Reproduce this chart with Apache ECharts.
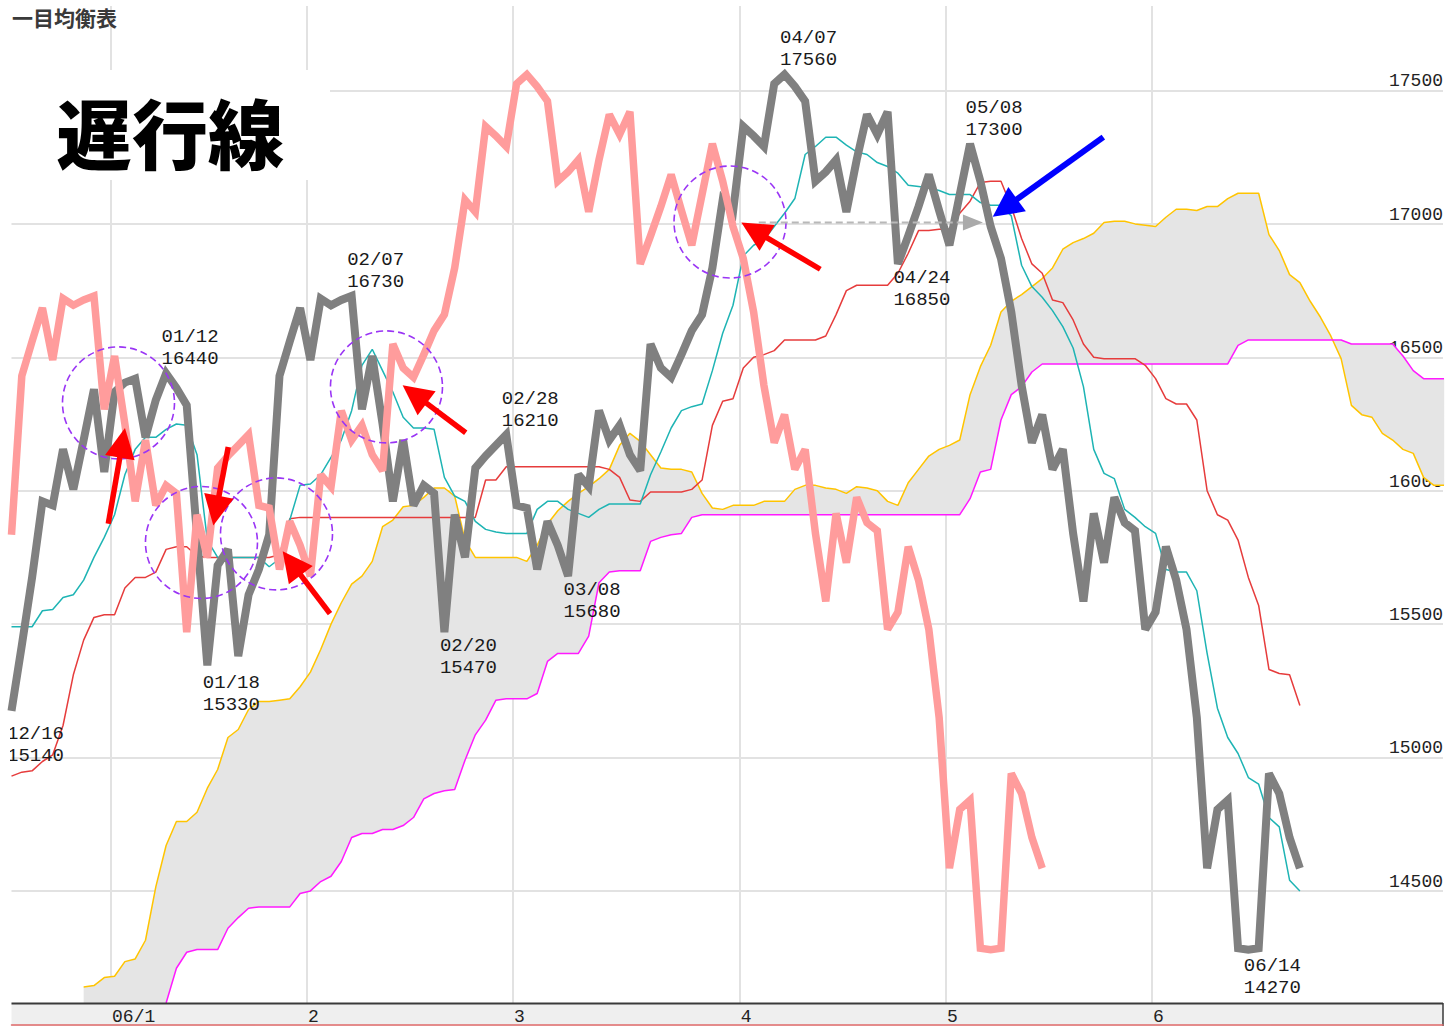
<!DOCTYPE html>
<html>
<head>
<meta charset="utf-8">
<title>一目均衡表 遅行線</title>
<script src="https://cdn.jsdelivr.net/npm/echarts@6.0.0/dist/echarts.min.js"></script>
<style>
html,body{margin:0;padding:0;background:#fff;}
#chart{width:1449px;height:1026px;}
</style>
</head>
<body>
<div id="chart"></div>
<script>
// ---------------- data (x = trading-day index, 0 = 2005/12/16) ----------------
const monthStartIdx = [10, 29, 49, 71, 91, 111];
const monthLabels = ['06/1', '2', '3', '4', '5', '6'];

// daily close (12/16 .. 06/21)
const close = [
  15175, 15420, 15675, 15960, 15945, 16155, 16005, 16190, 16380, 16070,
  16370, 16405, 16420, 16200, 16340, 16440, 16385, 16320, 15830, 15345,
  15720, 15780, 15380, 15610, 15705, 15835, 16430, 16560, 16685, 16490,
  16720, 16695, 16715, 16730, 16305, 16505, 16250, 15960, 16190, 15945,
  16020, 15990, 15470, 15910, 15750, 16085, 16130, 16170, 16210, 15945,
  15935, 15705, 15885, 15795, 15680, 16060, 16015, 16300, 16190, 16245,
  16135, 16075, 16550, 16460, 16425, 16510, 16600, 16660, 16835, 17090,
  17045, 17365, 17330, 17290, 17525, 17560, 17515, 17460, 17160, 17195,
  17240, 17045, 17240, 17410, 17335, 17420, 16850, 16955, 17065, 17185,
  17050, 16920, 17110, 17300, 17160, 16990, 16870, 16670, 16395, 16180,
  16285, 16080, 16155, 15840, 15585, 15915, 15730, 15975, 15880, 15850,
  15480, 15545, 15790, 15665, 15480, 15150, 14585, 14805, 14840, 14285,
  14280, 14285, 14940, 14865, 14700, 14585
];

// 転換線
const tenkan = [
  15490, 15490, 15490, 15550, 15555, 15600, 15610, 15665, 15750, 15825,
  15910, 16060, 16155, 16200, 16200, 16230, 16250, 16245, 16135, 15815,
  15750, 15750, 15750, 15750, 15750, 15715, 15745, 15890, 16020, 16025,
  16060, 16125, 16190, 16300, 16470, 16530, 16450, 16370, 16275, 16235,
  16235, 16230, 16050, 15980, 15960, 15885, 15855, 15845, 15840, 15840,
  15840, 15930, 15960, 15960, 15930, 15915, 15900, 15930, 15950, 15950,
  15950, 15950, 16060, 16145, 16235, 16300, 16315, 16325, 16450, 16590,
  16695, 16880, 16920, 16940, 16990, 17040, 17095, 17260, 17290, 17325,
  17325, 17295, 17270, 17260, 17230, 17215, 17190, 17145, 17140, 17135,
  17125, 17110, 17110, 17110, 17080, 17070, 17070, 17030, 16845, 16765,
  16725, 16675, 16615, 16535, 16390, 16155, 16065, 16045, 15930, 15900,
  15865, 15840, 15705, 15695, 15695, 15625, 15390, 15185, 15075, 15015,
  14925, 14900, 14775, 14740, 14540, 14500
];

// 基準線
const kijun = [
  14930, 14945, 14950, 14985, 15010, 15120, 15310, 15440, 15525, 15535,
  15535, 15635, 15675, 15675, 15695, 15780, 15790, 15790, 15755, 15750,
  15750, 15750, 15750, 15750, 15750, 15750, 15760, 15895, 15900, 15900,
  15900, 15900, 15900, 15900, 15900, 15900, 15900, 15900, 15900, 15900,
  15900, 15900, 15900, 15900, 15900, 15900, 16040, 16040, 16090, 16090,
  16090, 16090, 16090, 16090, 16090, 16090, 16090, 16090, 16080, 16050,
  15965, 15960, 15995, 15995, 15995, 15995, 16005, 16040, 16245, 16335,
  16345, 16460, 16500, 16510, 16525, 16565, 16565, 16565, 16565, 16580,
  16660, 16750, 16770, 16770, 16770, 16770, 16815, 16890, 16975, 16975,
  16980, 16980, 17040, 17085, 17155, 17160, 17160, 17065, 16945, 16850,
  16815, 16715, 16705, 16640, 16550, 16500, 16495, 16495, 16495, 16495,
  16470, 16420, 16345, 16325, 16325, 16265, 16000, 15910, 15890, 15815,
  15675, 15570, 15330, 15315, 15310, 15195
];

// 先行スパン1 (visible from index 7)
const senkouAStart = 7;
const senkouA = [
  14140, 14145, 14175, 14180, 14235, 14245, 14315, 14515, 14670, 14760,
  14760, 14795, 14885, 14955, 15075, 15105, 15180, 15210, 15210, 15215,
  15220, 15265, 15320, 15405, 15500, 15580, 15650, 15680, 15735, 15865,
  15890, 15940, 15945, 15975, 16010, 16010, 15980, 15815, 15750, 15750,
  15750, 15750, 15750, 15735, 15795, 15875, 15925, 15960, 15990, 16015,
  16045, 16080, 16170, 16215, 16185, 16135, 16085, 16080, 16080, 16070,
  15990, 15935, 15930, 15945, 15945, 15945, 15960, 15960, 15960, 16005,
  16020, 16020, 16010, 16005, 15990, 16015, 16010, 16000, 15960, 15945,
  16030, 16080, 16130, 16155, 16170, 16190, 16360, 16465, 16545, 16670,
  16710, 16735, 16765, 16795, 16835, 16905, 16930, 16945, 16965, 17005,
  17010, 17010, 17000, 16995, 16990, 17025, 17055, 17055, 17050, 17065,
  17065, 17095, 17115, 17115, 17115, 16960, 16900, 16810, 16780, 16710,
  16650, 16580, 16495, 16320, 16285, 16275, 16215, 16190, 16155, 16140,
  16050, 16020, 16020
];

// 先行スパン2 (visible from index 15)
const senkouBStart = 15;
const senkouB = [
  14080, 14210, 14270, 14280, 14280, 14280, 14360, 14400, 14435, 14440,
  14440, 14440, 14440, 14490, 14500, 14535, 14555, 14610, 14700, 14715,
  14715, 14730, 14730, 14745, 14775, 14845, 14865, 14875, 14880, 14990,
  15085, 15140, 15215, 15220, 15220, 15220, 15240, 15360, 15390, 15390,
  15390, 15455, 15655, 15695, 15700, 15700, 15700, 15810, 15825, 15835,
  15840, 15900, 15910, 15910, 15910, 15910, 15910, 15910, 15910, 15910,
  15910, 15910, 15910, 15910, 15910, 15910, 15910, 15910, 15910, 15910,
  15910, 15910, 15910, 15910, 15910, 15910, 15910, 15910, 15970, 16070,
  16080, 16265, 16360, 16390, 16445, 16475, 16475, 16475, 16475, 16475,
  16475, 16475, 16475, 16475, 16475, 16475, 16475, 16475, 16475, 16475,
  16475, 16475, 16475, 16475, 16545, 16565, 16565, 16565, 16565, 16565,
  16565, 16565, 16565, 16565, 16565, 16550, 16550, 16550, 16550, 16550,
  16505, 16450, 16420, 16420, 16420
];

// 遅行線 = close plotted 25 trading days back
const chikouShift = 25;

// pivot labels on the close line
const pivotIdx   = [0, 15, 19, 33, 42, 48, 54, 75, 86, 93, 120];
const pivotDate  = ['12/16', '01/12', '01/18', '02/07', '02/20', '02/28', '03/08', '04/07', '04/24', '05/08', '06/14'];
const pivotValue = [15140, 16440, 15330, 16730, 15470, 16210, 15680, 17560, 16850, 17300, 14270];
const pivotSide  = ['low', 'high', 'low', 'high', 'low', 'high', 'low', 'high', 'low', 'high', 'low'];

// annotations (data coordinates: [index, price])
const circleAt = [[10.38, 16329], [18.43, 15806], [25.71, 15838], [36.38, 16389], [69.71, 17007]];
const redArrows = [
  [[9.39, 15876], [11.01, 16235]],
  [[21.03, 16164], [19.58, 15870]],
  [[30.90, 15539], [26.31, 15773]],
  [[44.07, 16217], [37.95, 16395]],
  [[78.47, 16830], [70.81, 17005]]
];
const blueArrow = [[105.93, 17325], [95.20, 17027]];
const guideLine = [[72.5, 17005], [94.25, 17005]];

// ---------------- chart ----------------
const Y_MIN = 14000, Y_MAX = 17839.2, Y_STEP = 500, Y_TOP_TICK = 17500;
const X_MAX = 138.885;
const gridPos = monthStartIdx.map(i => i - 0.34);

const pairs = (arr, start) => arr.map((v, k) => [start + k, v]);
const closeData = pairs(close, 0);
const chikouData = pairs(close.slice(chikouShift), 0);
const aData = pairs(senkouA, senkouAStart);
const bData = pairs(senkouB, senkouBStart);
const lowerEdge = aData.map(([i]) => {
  const k = i - senkouBStart;
  return [i, k >= 0 ? senkouB[k] : Y_MIN];
});

const mono = '"Liberation Mono", "DejaVu Sans Mono", monospace';
const thin = (name, data, color, z) => ({
  name, type: 'line', data, z, symbol: 'none', showSymbol: false, silent: true,
  lineStyle: { color, width: 1.5 }, animation: false
});

const chart = echarts.init(document.getElementById('chart'), null, { renderer: 'svg' });

const option = {
  animation: false,
  backgroundColor: '#ffffff',
  grid: { left: 11.5, right: 6, top: 0, bottom: 1.7 },
  xAxis: [
    {
      type: 'value', min: 0, max: X_MAX,
      axisLine: { show: false }, axisLabel: { show: false },
      axisTick: { show: false, customValues: gridPos },
      splitLine: { show: true, lineStyle: { color: '#e2e2e2', width: 2 } }
    },
    {
      type: 'value', min: 0, max: X_MAX, position: 'bottom', z: 120,
      axisLine: { show: true, lineStyle: { color: '#e06a6a', width: 1.5 } },
      axisTick: { show: false },
      splitLine: { show: false },
      axisLabel: {
        show: true, inside: true, margin: 7.5, customValues: gridPos,
        align: 'left', verticalAlign: 'middle', padding: [0, 0, 0, 1],
        fontFamily: mono, fontSize: 18, color: '#222',
        formatter: v => {
          const k = gridPos.findIndex(g => Math.abs(g - v) < 0.01);
          return k >= 0 ? monthLabels[k] : '';
        }
      }
    }
  ],
  yAxis: {
    type: 'value', position: 'right', min: Y_MIN, max: Y_MAX, interval: Y_STEP,
    axisLine: { show: false }, axisTick: { show: false },
    axisLabel: {
      inside: true, margin: 0, align: 'right', verticalAlign: 'bottom',
      showMinLabel: false, showMaxLabel: false,
      fontFamily: mono, fontSize: 18, lineHeight: 18, color: '#222',
      formatter: v => (v > Y_MIN && v <= Y_TOP_TICK) ? String(v) : ''
    },
    splitLine: { lineStyle: { color: '#e2e2e2', width: 2 } }
  },
  series: [
    {
      name: '雲', type: 'custom', coordinateSystem: 'cartesian2d', silent: true, z: 1,
      data: [aData[0]], encode: { x: 0, y: 1 },
      renderItem: (params, api) => {
        const upper = aData.map(p => api.coord(p));
        const lower = lowerEdge.map(p => api.coord(p)).reverse();
        return { type: 'polygon', shape: { points: upper.concat(lower) }, style: { fill: '#e5e5e5' } };
      }
    },
    thin('先行スパン1', aData, '#ffc400', 2),
    thin('先行スパン2', bData, '#ff1aff', 2),
    thin('基準線', pairs(kijun, 0), '#e63c3c', 3),
    thin('転換線', pairs(tenkan, 0), '#1eb4b4', 3),
    {
      name: '終値', type: 'line', data: closeData, z: 5, clip: false,
      symbol: 'none', showSymbol: false, silent: true,
      lineStyle: { color: '#808080', width: 8, join: 'miter', miterLimit: 2.5 },
      markPoint: {
        symbol: 'circle', symbolSize: 1, silent: true, animation: false,
        itemStyle: { color: 'rgba(0,0,0,0)' },
        label: {
          show: true, position: 'inside', fontFamily: mono, fontSize: 19, lineHeight: 22,
          color: '#1a1a1a', align: 'center', verticalAlign: 'middle'
        },
        data: pivotIdx.map((idx, k) => ({
          coord: [idx, pivotValue[k]], value: pivotValue[k],
          label: { formatter: pivotDate[k] + '\n' + pivotValue[k], offset: [24, pivotSide[k] === 'high' ? -25 : 25] }
        }))
      }
    },
    {
      name: '遅行線', type: 'line', data: chikouData, z: 6, clip: false,
      symbol: 'none', showSymbol: false, silent: true,
      lineStyle: { color: '#ff9c9c', width: 7.5, join: 'miter', miterLimit: 2.5 }
    }
  ]
};
chart.setOption(option);

// ---------------- annotations ----------------
const CLOSE_SERIES = 5;
const P = (pt) => chart.convertToPixel({ seriesIndex: CLOSE_SERIES }, pt);

function arrowEls(from, to, color, shaftW, headL, headW) {
  const [x1, y1] = P(from), [x2, y2] = P(to);
  const dx = x2 - x1, dy = y2 - y1, L = Math.hypot(dx, dy);
  const ux = dx / L, uy = dy / L, nx = -uy, ny = ux;
  const bx = x2 - ux * headL, by = y2 - uy * headL;
  return [
    { type: 'line', z: 200, shape: { x1, y1, x2: bx + ux * 2, y2: by + uy * 2 },
      style: { stroke: color, lineWidth: shaftW, lineCap: 'butt' } },
    { type: 'polygon', z: 200,
      shape: { points: [[x2, y2], [bx + nx * headW / 2, by + ny * headW / 2], [bx - nx * headW / 2, by - ny * headW / 2]] },
      style: { fill: color } }
  ];
}

const els = [];
els.push({ type: 'rect', z: 100, shape: { x: 0, y: 0, width: 1449, height: 6 }, style: { fill: '#ffffff' } });
els.push({ type: 'text', z: 101, x: 12, y: 17,
  style: { text: '一目均衡表', fontFamily: '"Noto Sans CJK JP"', fontSize: 21, fontWeight: 'bold', fill: '#3a3a3a', align: 'left', verticalAlign: 'middle' } });
els.push({ type: 'rect', z: 100, shape: { x: 0, y: 70, width: 330, height: 110 }, style: { fill: '#ffffff' } });
els.push({ type: 'text', z: 101, x: 170, y: 131,
  style: { text: '遅行線', fontFamily: '"Noto Sans CJK JP"', fontSize: 76, fontWeight: 900, fill: '#000000', align: 'center', verticalAlign: 'middle' } });
// left margin mask (the plot clips the first pivot label)
els.push({ type: 'rect', z: 100, shape: { x: 0, y: 722, width: 10, height: 48 }, style: { fill: '#ffffff' } });
// bottom date strip
els.push({ type: 'rect', z: 100, shape: { x: 11.5, y: 1003, width: 1431.5, height: 23 }, style: { fill: '#efefef' } });
els.push({ type: 'line', z: 101, shape: { x1: 11.5, y1: 1003.5, x2: 1443, y2: 1003.5 }, style: { stroke: '#3a3a3a', lineWidth: 2 } });
els.push({ type: 'line', z: 101, shape: { x1: 1443, y1: 1003, x2: 1443, y2: 1026 }, style: { stroke: '#3a3a3a', lineWidth: 1.5 } });

circleAt.forEach(c => {
  const [cx, cy] = P(c);
  els.push({ type: 'circle', z: 190, shape: { cx, cy, r: 56 },
    style: { fill: 'none', stroke: '#9a35f5', lineWidth: 1.6, lineDash: [7, 4] } });
});
{
  const [gx1, gy] = P(guideLine[0]);
  const [gx2] = P(guideLine[1]);
  els.push({ type: 'line', z: 195, shape: { x1: gx1, y1: gy, x2: gx2 - 18, y2: gy },
    style: { stroke: '#b8b8b8', lineWidth: 2, lineDash: [7, 4] } });
  els.push({ type: 'polygon', z: 195, shape: { points: [[gx2, gy], [gx2 - 20, gy - 8], [gx2 - 20, gy + 8]] },
    style: { fill: '#aaaaaa' } });
}
redArrows.forEach(a => arrowEls(a[0], a[1], '#ff0000', 5.5, 30, 30).forEach(e => els.push(e)));
arrowEls(blueArrow[0], blueArrow[1], '#0000ff', 6, 30, 30).forEach(e => els.push(e));

chart.setOption({ graphic: { elements: els } });
</script>
</body>
</html>
